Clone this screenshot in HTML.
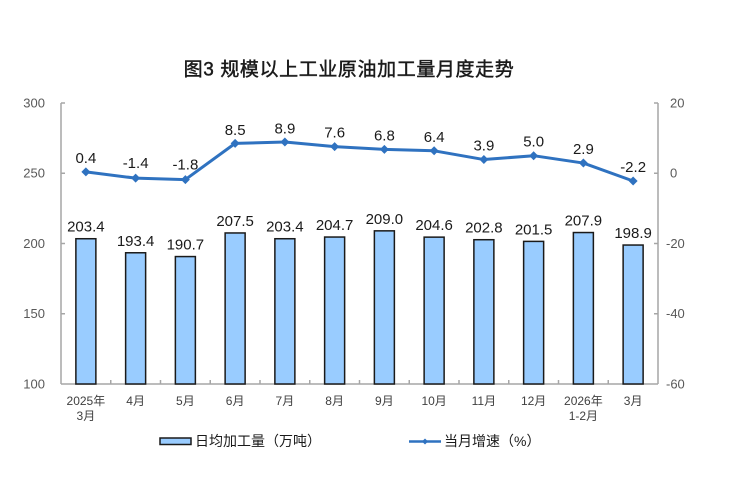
<!DOCTYPE html>
<html>
<head>
<meta charset="utf-8">
<style>
  html,body{margin:0;padding:0;background:#fff;}
  svg{display:block;}
  .t{font-family:"Liberation Sans","Noto Sans CJK SC",sans-serif;}
</style>
</head>
<body>
<svg width="729" height="497" viewBox="0 0 729 497" xmlns="http://www.w3.org/2000/svg">
  <rect x="0" y="0" width="729" height="497" fill="#ffffff"/>

  <!-- Title -->
  <text class="t" x="349" y="75.5" font-size="19" letter-spacing="0.6" fill="#1a1a1a" stroke="#1a1a1a" stroke-width="0.45" text-anchor="middle">图3 规模以上工业原油加工量月度走势</text>

  <!-- Axes -->
  <g stroke="#a6a6a6" stroke-width="1.5" fill="none">
    <line x1="61" y1="103" x2="61" y2="384"/>
    <line x1="658" y1="103" x2="658" y2="384"/>
    <line x1="61" y1="384" x2="658" y2="384"/>
    <line x1="61" y1="103" x2="65" y2="103"/>
    <line x1="61" y1="173.25" x2="65" y2="173.25"/>
    <line x1="61" y1="243.5" x2="65" y2="243.5"/>
    <line x1="61" y1="313.75" x2="65" y2="313.75"/>
    <line x1="654" y1="103" x2="658" y2="103"/>
    <line x1="654" y1="173.25" x2="658" y2="173.25"/>
    <line x1="654" y1="243.5" x2="658" y2="243.5"/>
    <line x1="654" y1="313.75" x2="658" y2="313.75"/>
    <line x1="110.75" y1="380" x2="110.75" y2="384"/>
    <line x1="160.5" y1="380" x2="160.5" y2="384"/>
    <line x1="210.25" y1="380" x2="210.25" y2="384"/>
    <line x1="260" y1="380" x2="260" y2="384"/>
    <line x1="309.75" y1="380" x2="309.75" y2="384"/>
    <line x1="359.5" y1="380" x2="359.5" y2="384"/>
    <line x1="409.25" y1="380" x2="409.25" y2="384"/>
    <line x1="459" y1="380" x2="459" y2="384"/>
    <line x1="508.75" y1="380" x2="508.75" y2="384"/>
    <line x1="558.5" y1="380" x2="558.5" y2="384"/>
    <line x1="608.25" y1="380" x2="608.25" y2="384"/>
  </g>

  <!-- Left axis labels -->
  <g class="t" font-size="13" fill="#595959" text-anchor="end">
    <text x="45" y="107.5">300</text>
    <text x="45" y="177.7">250</text>
    <text x="45" y="248">200</text>
    <text x="45" y="318.2">150</text>
    <text x="45" y="388.5">100</text>
  </g>
  <!-- Right axis labels -->
  <g class="t" font-size="13" fill="#595959" text-anchor="start">
    <text x="670" y="107.5">20</text>
    <text x="670" y="177.7">0</text>
    <text x="666" y="248">-20</text>
    <text x="666" y="318.2">-40</text>
    <text x="666" y="388.5">-60</text>
  </g>

  <!-- Bars -->
  <g fill="#99ccff" stroke="#1a1a1a" stroke-width="1.5">
    <rect x="75.875" y="238.73" width="20" height="145.27"/>
    <rect x="125.625" y="252.77" width="20" height="131.23"/>
    <rect x="175.375" y="256.57" width="20" height="127.43"/>
    <rect x="225.125" y="232.96" width="20" height="151.04"/>
    <rect x="274.875" y="238.73" width="20" height="145.27"/>
    <rect x="324.625" y="237.04" width="20" height="146.96"/>
    <rect x="374.375" y="230.85" width="20" height="153.15"/>
    <rect x="424.125" y="237.14" width="20" height="146.86"/>
    <rect x="473.875" y="239.71" width="20" height="144.29"/>
    <rect x="523.625" y="241.39" width="20" height="142.61"/>
    <rect x="573.375" y="232.54" width="20" height="151.46"/>
    <rect x="623.125" y="245.04" width="20" height="138.96"/>
  </g>

  <!-- Bar labels -->
  <g class="t" font-size="15" fill="#1a1a1a" text-anchor="middle">
    <text x="85.875" y="231.7">203.4</text>
    <text x="135.625" y="245.8">193.4</text>
    <text x="185.375" y="249.6">190.7</text>
    <text x="235.125" y="226">207.5</text>
    <text x="284.875" y="231.7">203.4</text>
    <text x="334.625" y="230">204.7</text>
    <text x="384.375" y="223.9">209.0</text>
    <text x="434.125" y="230.1">204.6</text>
    <text x="483.875" y="232.7">202.8</text>
    <text x="533.625" y="234.4">201.5</text>
    <text x="583.375" y="225.5">207.9</text>
    <text x="633.125" y="238">198.9</text>
  </g>

  <!-- Line -->
  <polyline fill="none" stroke="#2f72c0" stroke-width="3" stroke-linejoin="round"
    points="85.875,171.85 135.625,178.17 185.375,179.57 235.125,143.4 284.875,142.0 334.625,146.6 384.375,149.4 434.125,150.8 483.875,159.55 533.625,155.7 583.375,163.06 633.125,180.98"/>
  <g fill="#2f72c0">
    <polygon points="85.875,167.35 90.375,171.85 85.875,176.35 81.375,171.85"/>
    <polygon points="135.625,173.67 140.125,178.17 135.625,182.67 131.125,178.17"/>
    <polygon points="185.375,175.07 189.875,179.57 185.375,184.07 180.875,179.57"/>
    <polygon points="235.125,138.9 239.625,143.4 235.125,147.9 230.625,143.4"/>
    <polygon points="284.875,137.5 289.375,142.0 284.875,146.5 280.375,142.0"/>
    <polygon points="334.625,142.1 339.125,146.6 334.625,151.1 330.125,146.6"/>
    <polygon points="384.375,144.9 388.875,149.4 384.375,153.9 379.875,149.4"/>
    <polygon points="434.125,146.3 438.625,150.8 434.125,155.3 429.625,150.8"/>
    <polygon points="483.875,155.05 488.375,159.55 483.875,164.05 479.375,159.55"/>
    <polygon points="533.625,151.2 538.125,155.7 533.625,160.2 529.125,155.7"/>
    <polygon points="583.375,158.56 587.875,163.06 583.375,167.56 578.875,163.06"/>
    <polygon points="633.125,176.48 637.625,180.98 633.125,185.48 628.625,180.98"/>
  </g>

  <!-- Line labels -->
  <g class="t" font-size="15" fill="#1a1a1a" text-anchor="middle">
    <text x="85.875" y="162.8">0.4</text>
    <text x="135.625" y="168.2">-1.4</text>
    <text x="185.375" y="169.6">-1.8</text>
    <text x="235.125" y="135">8.5</text>
    <text x="284.875" y="133.3">8.9</text>
    <text x="334.625" y="137.6">7.6</text>
    <text x="384.375" y="140.4">6.8</text>
    <text x="434.125" y="141.8">6.4</text>
    <text x="483.875" y="150.5">3.9</text>
    <text x="533.625" y="146.7">5.0</text>
    <text x="583.375" y="154">2.9</text>
    <text x="633.125" y="171.8">-2.2</text>
  </g>

  <!-- X labels -->
  <g class="t" font-size="12" fill="#404040" text-anchor="middle">
    <text x="85.875" y="405">2025年</text>
    <text x="85.875" y="420">3月</text>
    <text x="135.625" y="405">4月</text>
    <text x="185.375" y="405">5月</text>
    <text x="235.125" y="405">6月</text>
    <text x="284.875" y="405">7月</text>
    <text x="334.625" y="405">8月</text>
    <text x="384.375" y="405">9月</text>
    <text x="434.125" y="405">10月</text>
    <text x="483.875" y="405">11月</text>
    <text x="533.625" y="405">12月</text>
    <text x="583.375" y="405">2026年</text>
    <text x="583.375" y="420">1-2月</text>
    <text x="633.125" y="405">3月</text>
  </g>

  <!-- Legend -->
  <rect x="160" y="438" width="31" height="6.5" fill="#99ccff" stroke="#1a1a1a" stroke-width="1.5"/>
  <text class="t" x="195" y="446" font-size="14" fill="#1a1a1a">日均加工量（万吨）</text>
  <line x1="409" y1="441.5" x2="441" y2="441.5" stroke="#2f72c0" stroke-width="2.5"/>
  <polygon points="425,438.5 428,441.5 425,444.5 422,441.5" fill="#2f72c0"/>
  <text class="t" x="444" y="446" font-size="14" fill="#1a1a1a">当月增速（%）</text>
</svg>
</body>
</html>
